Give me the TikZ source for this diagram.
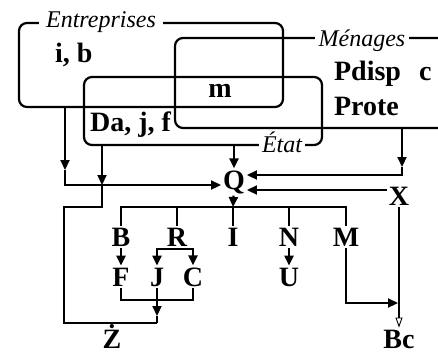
\documentclass[tikz,border=0pt]{standalone}
\usepackage{fontspec}
\setmainfont{Liberation Serif}
\usepackage{tikz}
\usetikzlibrary{arrows.meta}

\begin{document}
\begin{tikzpicture}[x=1pt,y=-1pt,line width=2.2pt,
  box/.style={draw,rounded corners=8pt,inner sep=0pt},
  lbl/.style={font=\fontsize{28}{30}\selectfont\bfseries,inner sep=1pt},
  tag/.style={font=\fontsize{24}{26}\selectfont\itshape,fill=white,inner xsep=5pt,inner ysep=0pt},
  arr/.style={-{Triangle[length=10pt,width=9pt]}},
  opn/.style={-{Triangle[open,length=10pt,width=7pt,line width=0.9pt]}}
]
\useasboundingbox (0,0) rectangle (438,353);

\node[box,minimum width=264pt,minimum height=84pt] (ent) at (151,65) {};
\node[box,minimum width=295pt,minimum height=90pt] (men) at (322.5,83) {};
\node[box,minimum width=238pt,minimum height=68pt] (etat) at (203,111) {};

\node[tag,anchor=base,inner xsep=7pt] (entL) at (101,28) {Entreprises};
\node[tag,anchor=base,inner xsep=4pt] (menL) at (362,46) {Ménages};
\node[tag,anchor=base,inner xsep=3pt] (etatL) at (282,152) {État};

\node[lbl,anchor=base west] (ib) at (53,62) {i, b};
\node[lbl,anchor=base] (m) at (220,97) {m};
\node[lbl,anchor=base west] (daj) at (88,131) {Da, j, f};
\node[lbl,anchor=base west] (pd) at (332,80) {Pdisp};
\node[lbl,anchor=base west] (c) at (417,80) {c};
\node[lbl,anchor=base west] (pr) at (332,115) {Prote};

\node[lbl,anchor=base] (Q) at (234,189) {Q};
\node[lbl,anchor=base] (X) at (399,205) {X};
\node[lbl,anchor=base] (B) at (121,246) {B};
\node[lbl,anchor=base] (R) at (177,246) {R};
\node[lbl,anchor=base] (I) at (233,246) {I};
\node[lbl,anchor=base] (N) at (289,246) {N};
\node[lbl,anchor=base] (M) at (346,246) {M};
\node[lbl,anchor=base] (F) at (121,286) {F};
\node[lbl,anchor=base] (J) at (157,286) {J};
\node[lbl,anchor=base] (C) at (193,286) {C};
\node[lbl,anchor=base] (U) at (289,286) {U};
\node[lbl,anchor=base] (Z) at (112,348) {Ż};
\node[lbl,anchor=base] (Bc) at (399,348) {Bc};

\coordinate (ea) at (65,170);
\coordinate (eb) at (65,185);
\coordinate (jn) at (102,185);
\coordinate (z1) at (102,207);
\coordinate (z2) at (64,207);
\coordinate (z3) at (64,323);
\coordinate (z4) at (157,323);
\coordinate (jt) at (157,316);
\coordinate (fj) at (157,300);
\coordinate (rb) at (177,249);
\coordinate (qb) at (233,207);
\coordinate (ma) at (402,167);
\coordinate (mc) at (402,175);
\coordinate (xq) at (390,190);
\coordinate (mb) at (346,303);

\draw[arr] (ent.south -| ea) -- (ea);
\draw[arr] (ea) -- (eb) -- (Q.west |- eb);
\draw[arr] (etat.south -| jn) -- (jn);
\draw (jn) -- (z1) -- (z2) -- (z3) -- (z4);
\draw[arr] (etat.south -| Q) -- (Q);
\draw[arr] (men.south -| ma) -- (ma);
\draw[arr] (ma) -- (mc) -- (Q.east |- mc);
\draw[arr] (X.west |- xq) -- (Q.east |- xq);
\draw[arr] (Q) -- (qb);
\draw (B) |- (qb) -| (M);
\foreach \n in {R,I,N} \draw (\n |- qb) -- (\n);
\draw[arr] (B) -- (F);
\draw (R) -- (rb);
\draw[arr] (rb) -| (J);
\draw[arr] (rb) -| (C);
\draw (F) |- (fj) -| (C);
\draw[arr] (J) -- (jt);
\draw (jt) -- (z4);
\draw[arr] (N) -- (U);
\draw[arr,shorten >=1pt] (M) |- (X |- mb);
\draw[opn] (X) -- (Bc);
\end{tikzpicture}
\end{document}
